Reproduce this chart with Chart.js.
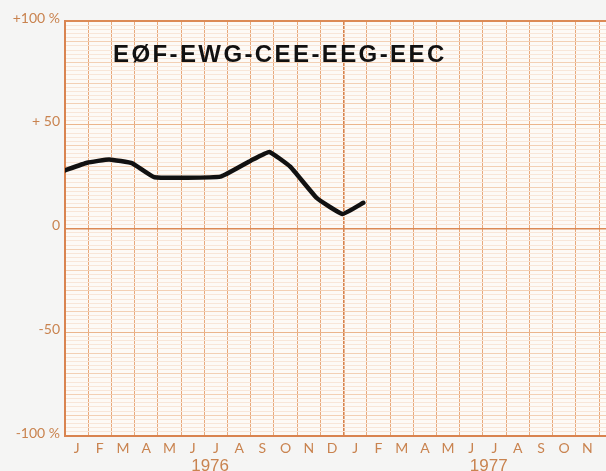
<!DOCTYPE html>
<html>
<head>
<meta charset="utf-8">
<script src="https://cdn.jsdelivr.net/npm/chart.js@4"></script>
<style>
  html, body { margin: 0; padding: 0; background: #f5f5f4; }
  #wrap { width: 606px; height: 471px; }
</style>
</head>
<body>
<div id="wrap"><canvas id="myChart" width="606" height="471"></canvas></div>
<script>
// months counted from Jan 1976 (0 = start of January 1976)
const pointMonths = [0, 0.95, 1.9, 2.9, 3.85, 6.7, 8.0, 8.8, 9.7, 10.85, 11.95, 12.85];
const pointValues = [28, 31.7, 33.3, 31.4, 24.7, 25, 32.7, 36.9, 29.8, 14.6, 7, 12.4];
const monthLetters = ['J', 'F', 'M', 'A', 'M', 'J', 'J', 'A', 'S', 'O', 'N', 'D'];
const years = ['1976', '1977'];
const yLabels = { '100': '+100 %', '50': '+ 50', '0': '0', '-50': '-50', '-100': '-100 %' };
const title = 'EØF-EWG-CEE-EEG-EEC';

const orange = '#c9834f';
const xMax = 23.3;

const paper = {
  id: 'paper',
  beforeDraw(chart) {
    const a = chart.chartArea;
    const ctx = chart.ctx;
    ctx.save();
    ctx.fillStyle = '#fdfaf6';
    ctx.fillRect(a.left, a.top, a.right - a.left, a.bottom - a.top);
    ctx.restore();
  },
  afterDraw(chart) {
    const a = chart.chartArea;
    const ctx = chart.ctx;
    ctx.save();
    ctx.fillStyle = '#111';
    ctx.font = 'bold 24px "Liberation Sans", Arial, sans-serif';
    ctx.letterSpacing = '2.4px';
    ctx.textBaseline = 'alphabetic';
    ctx.fillText(title, a.left + 48, a.top + 41);
    ctx.restore();
  }
};

const data = pointMonths.map((m, i) => ({ x: m, y: pointValues[i] }));

new Chart(document.getElementById('myChart').getContext('2d'), {
  type: 'line',
  data: {
    datasets: [{
      data: data,
      borderColor: '#111',
      borderWidth: 4.5,
      borderJoinStyle: 'round',
      borderCapStyle: 'round',
      pointRadius: 0,
      tension: 0.1,
      xAxisID: 'x',
      yAxisID: 'y'
    }]
  },
  options: {
    responsive: false,
    animation: false,
    layout: { padding: { top: 21, left: 0, right: 0, bottom: 0 } },
    plugins: { legend: { display: false }, tooltip: { enabled: false } },
    scales: {
      x: {
        type: 'linear',
        position: 'bottom',
        min: 0,
        max: xMax,
        afterBuildTicks: (s) => {
          s.ticks = [];
          for (let i = 0; i <= 23; i++) s.ticks.push({ value: i });
        },
        afterFit: (s) => { s.height = 0; },
        ticks: { display: false, autoSkip: false },
        grid: {
          drawTicks: false,
          color: (c) => c.tick && c.tick.value === 12 ? '#d8834c' : '#e8a97c',
          lineWidth: (c) => c.tick && c.tick.value === 12 ? 1.6 : 1
        },
        border: { display: true, color: '#d98450', width: 2 }
      },
      xm: {
        type: 'linear',
        position: 'bottom',
        min: 0,
        max: xMax,
        afterBuildTicks: (s) => {
          s.ticks = [];
          for (let i = 0; i < 23; i++) s.ticks.push({ value: i + 0.5 });
        },
        afterFit: (s) => { s.height = 20; },
        ticks: {
          autoSkip: false,
          maxRotation: 0,
          padding: 4,
          color: orange,
          font: { family: 'Lato', size: 14 },
          callback: (v) => monthLetters[Math.floor(v) % 12]
        },
        grid: { display: false, drawTicks: false },
        border: { display: false }
      },
      xy: {
        type: 'linear',
        position: 'bottom',
        min: 0,
        max: xMax,
        afterBuildTicks: (s) => {
          s.ticks = years.map((y, i) => ({ value: i * 12 + 6.25 }));
        },
        afterFit: (s) => { s.height = 15; },
        ticks: {
          autoSkip: false,
          maxRotation: 0,
          padding: 0,
          color: orange,
          font: { family: '"Liberation Sans", Arial, sans-serif', size: 17 },
          callback: (v) => years[Math.round((v - 6.25) / 12)]
        },
        grid: { display: false, drawTicks: false },
        border: { display: false }
      },
      y: {
        min: -100,
        max: 100,
        afterBuildTicks: (s) => {
          s.ticks = [];
          for (let v = -100; v <= 100; v += 2) s.ticks.push({ value: v });
        },
        afterFit: (s) => { s.width = 65; },
        ticks: {
          autoSkip: false,
          padding: 5,
          labelOffset: -3,
          color: orange,
          font: { family: 'Lato', size: 14 },
          callback: (v) => yLabels[String(v)] || ''
        },
        grid: {
          drawTicks: false,
          color: (c) => {
            const v = c.tick ? c.tick.value : 1;
            if (v === 0 || v === 100) return '#dc8a55';
            if (v % 50 === 0) return '#ebb58c';
            if (v % 10 === 0) return '#f3d0b4';
            return '#f8e6d8';
          },
          lineWidth: (c) => {
            const v = c.tick ? c.tick.value : 1;
            if (v === 100) return 2;
            if (v === 0) return 1.4;
            return 1;
          }
        },
        border: { display: true, color: '#d98450', width: 2 }
      }
    }
  },
  plugins: [paper]
});
</script>
</body>
</html>
